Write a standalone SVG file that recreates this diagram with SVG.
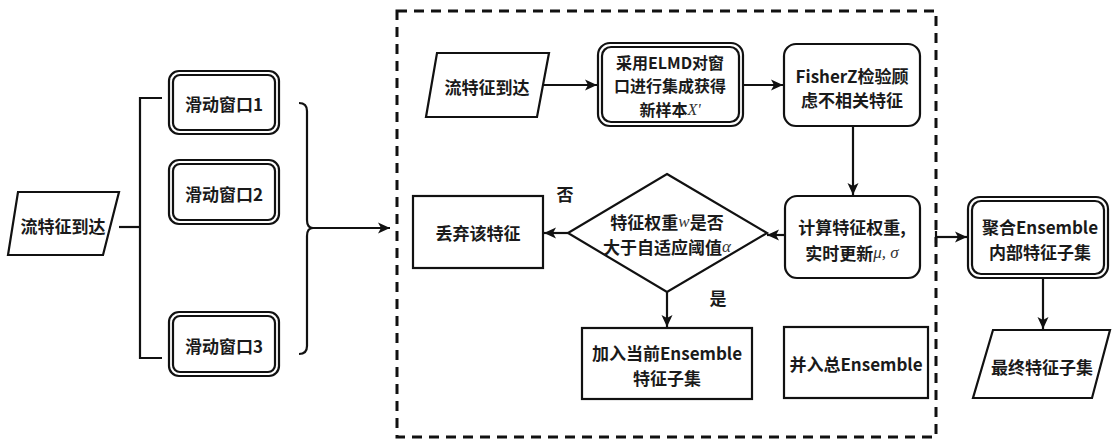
<svg xmlns="http://www.w3.org/2000/svg" width="1112" height="439" viewBox="0 0 1112 439">
<defs>
<style>
.t{font-family:"Noto Sans CJK SC","Noto Sans",sans-serif;font-weight:bold;font-size:17px;fill:#1a1a1a;text-anchor:middle;dominant-baseline:central}
.sm{font-size:16px}
.m{font-family:"Liberation Serif",serif;font-style:italic;font-weight:normal;fill:#333}
.s{fill:#fff;stroke:#111;stroke-width:2.2}
.l{fill:none;stroke:#111;stroke-width:2.2}
</style>
<marker id="a" markerUnits="userSpaceOnUse" markerWidth="14" markerHeight="14" viewBox="0 0 14 14" refX="13" refY="7" orient="auto">
<path d="M1,1.5 L13,7 L1,12.5 L4,7 Z" fill="#111"/>
</marker>
</defs>
<rect width="1112" height="439" fill="#fff"/>
<rect id="frame" x="397" y="11" width="539" height="426" fill="none" stroke="#111" stroke-width="3" stroke-dasharray="10,7"/>
<g id="connectors">
<line class="l" x1="119" y1="227" x2="140" y2="227"/>
<path class="l" d="M162,98 H140 V358 H162"/>
<path class="l" d="M299,103 Q307,103 307,111 V220 Q307,228 313,228 Q307,228 307,236 V346 Q307,354 299,354"/>
<line class="l" x1="312" y1="228" x2="390" y2="228" marker-end="url(#a)"/>
<line class="l" x1="541" y1="85" x2="597" y2="85" marker-end="url(#a)"/>
<line class="l" x1="743" y1="85" x2="783" y2="85" marker-end="url(#a)"/>
<line class="l" x1="853" y1="126" x2="853" y2="195" marker-end="url(#a)"/>
<line class="l" x1="785" y1="235" x2="767" y2="235" marker-end="url(#a)"/>
<line class="l" x1="568" y1="233" x2="544" y2="233" marker-end="url(#a)"/>
<line class="l" x1="667" y1="292" x2="667" y2="327" marker-end="url(#a)"/>
<line class="l" x1="936" y1="237" x2="967" y2="237" marker-end="url(#a)"/>
<line class="l" x1="936" y1="231" x2="936" y2="243"/>
<line class="l" x1="1043" y1="278" x2="1043" y2="329" marker-end="url(#a)"/>
</g>
<g id="n_in1">
<polygon class="s" points="18,192 119,192 103,255 8,255"/>
<text class="t" x="63" y="225">流特征到达</text>
</g>
<g id="n_w1">
<rect class="s" x="169" y="71" width="110" height="63" rx="10"/>
<rect class="s" x="173" y="75" width="102" height="55" rx="7"/>
<text class="t" x="224" y="103">滑动窗口1</text>
</g>
<g id="n_w2">
<rect class="s" x="169" y="160" width="110" height="64" rx="10"/>
<rect class="s" x="173" y="164" width="102" height="56" rx="7"/>
<text class="t" x="224" y="193">滑动窗口2</text>
</g>
<g id="n_w3">
<rect class="s" x="169" y="312" width="110" height="64" rx="10"/>
<rect class="s" x="173" y="316" width="102" height="56" rx="7"/>
<text class="t" x="224" y="345">滑动窗口3</text>
</g>
<g id="n_in2">
<polygon class="s" points="437,53 549,53 537,117 426,117"/>
<text class="t" x="487" y="86">流特征到达</text>
</g>
<g id="n_elmd">
<rect class="s" x="598" y="43" width="145" height="83" rx="12"/>
<rect class="s" x="602" y="47" width="137" height="75" rx="9"/>
<text class="t sm" x="670" y="61.5">采用ELMD对窗</text>
<text class="t sm" x="670" y="85">口进行集成获得</text>
<text class="t sm" x="670" y="108.5">新样本<tspan class="m">X'</tspan></text>
</g>
<g id="n_fisher">
<rect class="s" x="784" y="44" width="136" height="82" rx="12"/>
<text class="t" x="852" y="75">FisherZ检验顾</text>
<text class="t" x="852" y="99">虑不相关特征</text>
</g>
<g id="n_calc">
<rect class="s" x="785" y="196" width="135" height="82" rx="12"/>
<text class="t" x="852" y="226">计算特征权重,</text>
<text class="t" x="852" y="252">实时更新<tspan class="m">μ, σ</tspan></text>
</g>
<g id="n_dec">
<polygon class="s" points="667,174 767,233 667,292 568,233"/>
<text class="t" x="667" y="221">特征权重<tspan class="m">w</tspan>是否</text>
<text class="t" x="667" y="246">大于自适应阈值<tspan class="m">α</tspan></text>
</g>
<g id="n_drop">
<rect class="s" x="413" y="196" width="130" height="72"/>
<text class="t" x="478" y="232">丢弃该特征</text>
</g>
<g id="n_add">
<rect class="s" x="582" y="328" width="170" height="71"/>
<text class="t" x="667" y="352">加入当前Ensemble</text>
<text class="t" x="667" y="377">特征子集</text>
</g>
<g id="n_merge">
<rect class="s" x="784" y="327" width="144" height="71"/>
<text class="t" x="856" y="363">并入总Ensemble</text>
</g>
<g id="n_agg">
<rect class="s" x="968" y="197" width="140" height="81" rx="12"/>
<rect class="s" x="972" y="201" width="132" height="73" rx="9"/>
<text class="t" x="1040" y="226">聚合Ensemble</text>
<text class="t" x="1040" y="251">内部特征子集</text>
</g>
<g id="n_out">
<polygon class="s" points="993,330 1110,330 1092,398 973,398"/>
<text class="t" x="1042" y="366">最终特征子集</text>
</g>
<g id="labels">
<text class="t" x="565" y="193">否</text>
<text class="t" x="718" y="297">是</text>
</g>
</svg>
